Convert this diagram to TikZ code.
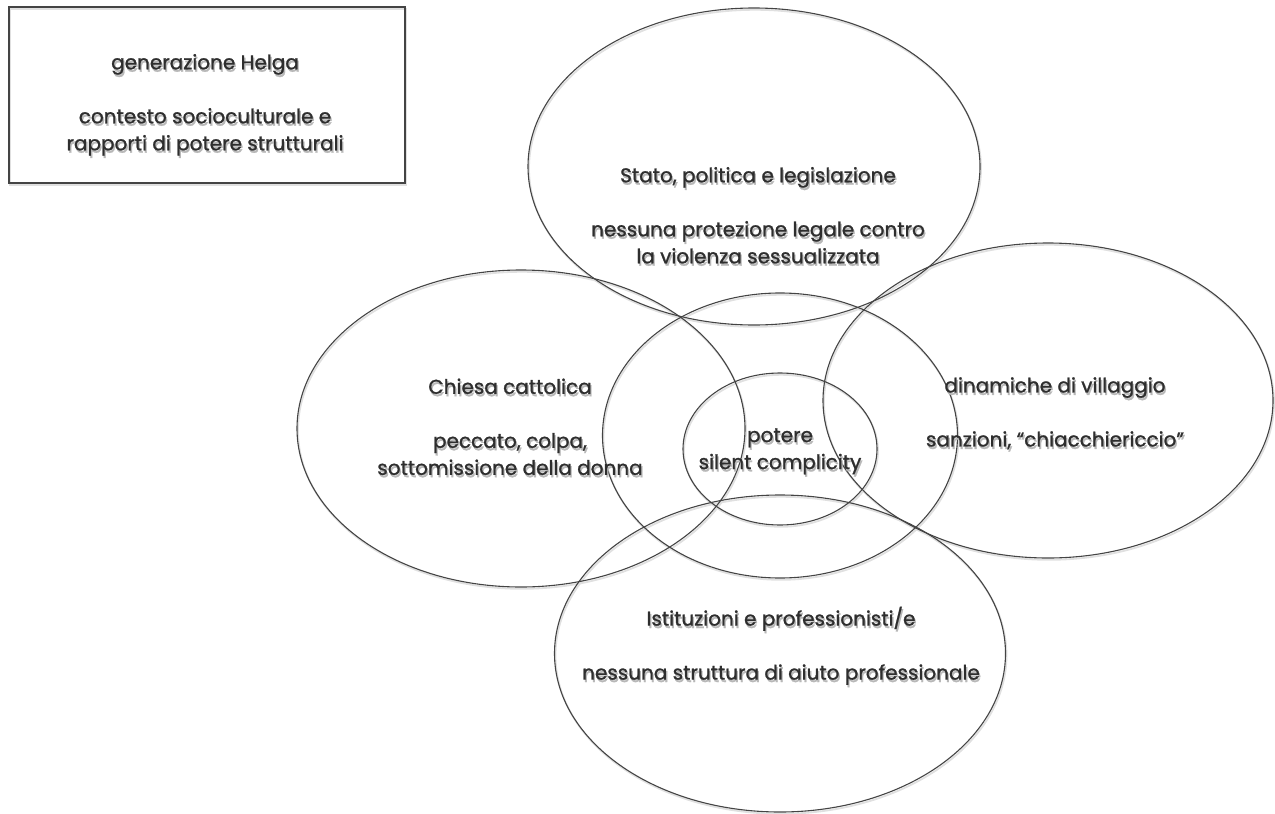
\documentclass[tikz,border=0pt]{standalone}
\usepackage{fontspec}
\setmainfont{Poppins}[FakeBold=1.2]
\usetikzlibrary{shapes.geometric}
\definecolor{ink}{HTML}{2E2E2E}
\definecolor{edge}{HTML}{444444}
\newcommand\sh[1]{\leavevmode\rlap{\kern1.3pt\raisebox{-2.4pt}{\textcolor{black!28}{#1}}}#1}
\begin{document}
\begin{tikzpicture}[x=1pt,y=-1pt,
  oval/.style={ellipse, draw=edge, line width=1.1pt, inner sep=0pt, outer sep=0pt},
  shadowline/.style={draw=black!12, line width=1.8pt},
  boxstyle/.style={rectangle, draw=edge, line width=1.1pt, inner sep=0pt},
  lbl/.style={text=ink, font=\fontsize{20}{27}\selectfont, align=center, inner sep=0pt},
]
\useasboundingbox (0,0) rectangle (1275,814);
% faint shadows
\foreach \cx/\cy/\rx/\ry in {754/166.5/226/158.5, 521/428.5/224/158.5, 780/435.5/177.5/142.5, 780/449/97/76, 1048/400.5/225/157.5, 780/653.5/225.5/158.5}{
  \draw[shadowline] (\cx+1,\cy+1.8) ellipse [x radius=\rx, y radius=\ry];
}
\draw[shadowline] (10,9) rectangle (406,185);
% frame
\node[boxstyle, minimum width=396pt, minimum height=176pt] (ctx) at (207,95) {};
% ellipses
\foreach \n/\cx/\cy/\rx/\ry in {stato/754/166.5/226/158.5, chiesa/521/428.5/224/158.5, mid/780/435.5/177.5/142.5, inner/780/449/97/76, villaggio/1048/400.5/225/157.5, istit/780/653.5/225.5/158.5}{
  \node[oval, minimum width={2*\rx}, minimum height={2*\ry}] (\n) at (\cx,\cy) {};
}
% labels
\node[lbl] (tctx) at (205,106) {\sh{generazione Helga}\\[27pt]\sh{contesto socioculturale e}\\\sh{rapporti di potere strutturali}};
\node[lbl] (tstato) at (758,216.5) {\sh{Stato, politica e legislazione}\\[27pt]\sh{nessuna protezione legale contro}\\\sh{la violenza sessualizzata}};
\node[lbl] (tchiesa) at (510,428) {\sh{Chiesa cattolica}\\[27pt]\sh{peccato, colpa,}\\\sh{sottomissione della donna}};
\node[lbl] (tpotere) at (780,452.5) {\sh{potere}\\\sh{silent complicity}};
\node[lbl] (tvill) at (1055,414.5) {\sh{dinamiche di villaggio}\\[27pt]\sh{sanzioni, “chiacchiericcio”}};
\node[lbl] (tistit) at (781,647) {\sh{Istituzioni e professionisti/e}\\[27pt]\sh{nessuna struttura di aiuto professionale}};
\end{tikzpicture}
\end{document}
